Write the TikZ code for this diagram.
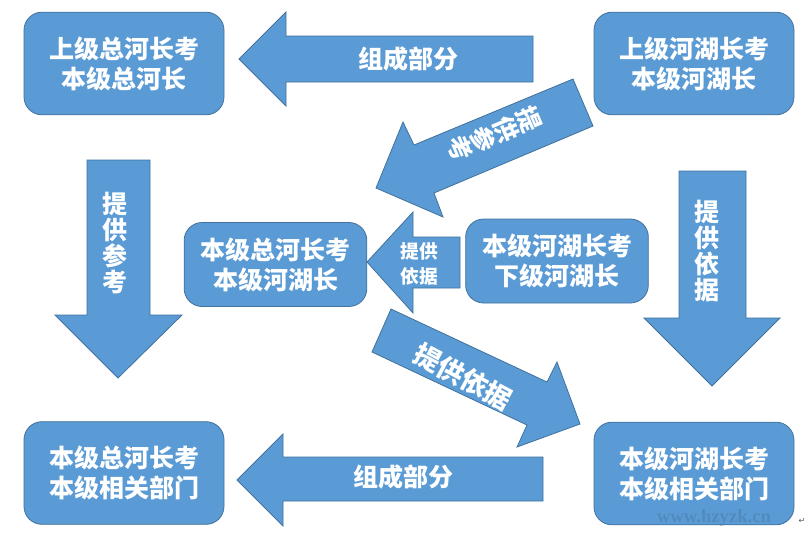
\documentclass[tikz,border=0pt]{standalone}
\usepackage{fontspec}
\newfontfamily\cjk{Noto Sans CJK SC}
\newfontfamily\symb{DejaVu Sans}
\newfontfamily\wmfont{Liberation Serif}
\definecolor{fillb}{HTML}{5B9BD5}
\definecolor{lineb}{HTML}{41719C}
\tikzset{
  px/.style={x=0.75pt,y=-0.75pt},
  boxs/.style={draw=lineb,line width=0.6pt,fill=fillb,rounded corners=13.5pt,text=white,align=center,font=\cjk\bfseries\fontsize{18.75pt}{22.5pt}\selectfont,inner sep=0pt},
  arrowshape/.style={draw=lineb,line width=0.6pt,fill=fillb},
  lab/.style={text=white,align=center,font=\cjk\bfseries\fontsize{18.75pt}{19.5pt}\selectfont,inner sep=0pt},
  labs/.style={text=white,align=center,font=\cjk\bfseries\fontsize{14pt}{19pt}\selectfont,inner sep=0pt},
  labd/.style={text=white,align=center,font=\cjk\bfseries\fontsize{20pt}{20pt}\selectfont,inner sep=0pt},
  labu/.style={text=white,align=center,font=\cjk\bfseries\fontsize{18.75pt}{18.75pt}\selectfont,inner sep=0pt},
  wm/.style={text=lineb,text opacity=0.4,inner sep=0pt,font=\wmfont\bfseries\fontsize{14pt}{16pt}\selectfont},
  retmark/.style={text=black!65,inner sep=0pt,font=\symb\fontsize{6pt}{7pt}\selectfont}
}
\begin{document}
\begin{tikzpicture}[px]
\useasboundingbox[fill=white] (0,0) rectangle (807,537);
% boxes
\node[boxs,minimum width=150pt,minimum height=77pt] (a) at (124,63.5) {上级总河长考\\本级总河长};
\node[boxs,minimum width=150pt,minimum height=77pt] (b) at (694,63.5) {上级河湖长考\\本级河湖长};
\node[boxs,minimum width=137pt,minimum height=63pt] (c) at (275.5,264.5) {本级总河长考\\本级河湖长};
\node[boxs,minimum width=137pt,minimum height=63pt] (d) at (557,261) {本级河湖长考\\下级河湖长};
\node[boxs,minimum width=150pt,minimum height=77pt] (e) at (124,473) {本级总河长考\\本级相关部门};
\node[boxs,minimum width=150pt,minimum height=77pt] (f) at (694,473.5) {本级河湖长考\\本级相关部门};
% arrows
\draw[arrowshape] (533,36) -- (286,36) -- (286,12) -- (239,59) -- (286,106) -- (286,82) -- (533,82) -- cycle;
\draw[arrowshape] (87,160) -- (150,160) -- (150,315) -- (182,315) -- (118,378) -- (55,315) -- (87,315) -- cycle;
\draw[arrowshape] (679,171) -- (746,171) -- (746,318) -- (780,318) -- (712,386) -- (644,318) -- (679,318) -- cycle;
\draw[arrowshape] (543,457) -- (283,457) -- (283,434) -- (237,480) -- (283,526) -- (283,501) -- (543,501) -- cycle;
\draw[arrowshape] (460,237) -- (413,237) -- (413,212) -- (367,262) -- (413,313) -- (413,288) -- (460,288) -- cycle;
\draw[arrowshape] (573,79) -- (593,126) -- (434,193) -- (443,217) -- (376,188) -- (403,122) -- (414,145) -- cycle;
\draw[arrowshape] (391,309) -- (372,352) -- (527,425) -- (517,447) -- (580,424) -- (557,362) -- (547,382) -- cycle;
% labels
\node[lab] (t1) at (408,59) {组成部分};
\node[lab] (t2) at (403,477) {组成部分};
\node[lab] (t3) at (115,243) {提\\供\\参\\考};
\node[lab] (t4) at (707,251) {提\\供\\依\\据};
\node[labs] (t5) at (419,264) {提供\\依据};
\node[labu,rotate=-67] (t6) at (495,134) {提\\供\\参\\考};
\node[labd,rotate=-28] (t7) at (463,377) {提供依据};
% watermark and paragraph mark
\node[wm] (w1) at (714,518) {www.hzyzk.cn};
\node[retmark] (w2) at (802,521) {↵};
\end{tikzpicture}
\end{document}
